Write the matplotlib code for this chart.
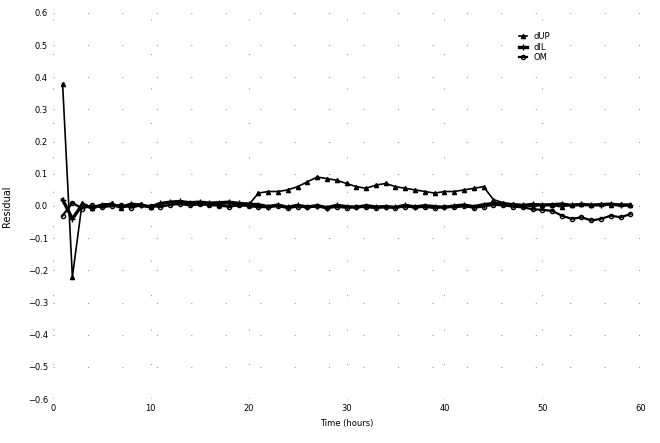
import numpy as np
import matplotlib
matplotlib.use("Agg")
import matplotlib.pyplot as plt

# sample positions (hours)
time = np.arange(1, 60)

dup = [0.38, -0.22, 0.01, -0.005, 0.004, 0.008, -0.006, 0.003, 0.006, -0.004,
       0.005, 0.01, 0.012, 0.008, 0.01, 0.006, 0.004, 0.002, 0.005, 0.003,
       0.04, 0.045, 0.045, 0.05, 0.06, 0.075, 0.09, 0.085, 0.08, 0.07,
       0.06, 0.055, 0.065, 0.07, 0.06, 0.055, 0.05, 0.045, 0.04, 0.045,
       0.045, 0.05, 0.055, 0.06, 0.02, 0.01, 0.006, 0.003, -0.002, 0.004,
       0.002, -0.003, 0.004, 0.006, 0.002, 0.005, 0.003, 0.006, 0.004]

dil = [0.02, -0.04, 0.004, -0.006, 0.003, 0.005, -0.004, 0.006, 0.002, -0.003,
       0.008, 0.012, 0.014, 0.01, 0.012, 0.009, 0.01, 0.012, 0.008, 0.006,
       0.004, -0.002, 0.003, -0.004, 0.002, -0.003, 0.001, -0.005, 0.002, -0.002,
       -0.004, 0.001, -0.003, -0.002, -0.004, 0.002, -0.003, 0.001, -0.002, -0.004,
       0.0, 0.003, -0.002, 0.004, 0.008, 0.006, 0.004, 0.002, 0.005, 0.003,
       0.004, 0.006, 0.002, 0.005, 0.003, 0.004, 0.006, 0.002, 0.003]

om = [-0.03, 0.01, -0.008, 0.002, -0.004, 0.0, 0.003, -0.005, 0.002, 0.0,
      -0.003, 0.004, 0.006, 0.002, 0.005, 0.003, 0.001, -0.002, 0.002, 0.0,
      -0.004, -0.003, 0.0, -0.006, -0.002, -0.004, -0.001, -0.006, -0.003, -0.005,
      -0.002, -0.004, -0.006, -0.003, -0.005, -0.002, -0.004, -0.003, -0.006, -0.002,
      -0.004, -0.001, -0.005, -0.002, 0.004, 0.002, -0.002, -0.004, -0.01, -0.012,
      -0.015, -0.03, -0.04, -0.035, -0.045, -0.04, -0.03, -0.035, -0.025]

yticks = [-0.6, -0.5, -0.4, -0.3, -0.2, -0.1, 0.0, 0.1, 0.2, 0.3, 0.4, 0.5, 0.6]
xticks = [0, 10, 20, 30, 40, 50, 60]

fig = plt.figure(figsize=(6.6, 4.43), dpi=100)
ax = fig.add_axes([0.080, 0.099, 0.89, 0.872])

ax.plot(time, dup, color='black', lw=1.2, marker='^', ms=3, label='dUP')
ax.plot(time, dil, color='black', lw=2.4, marker='+', ms=4, label='dIL')
ax.plot(time, om, color='black', lw=1.6, marker='o', ms=3, mfc='none', label='OM')

ax.set_xlim(0, 60)
ax.set_ylim(-0.6, 0.6)
ax.set_xticks(xticks)
ax.set_yticks(yticks)
ax.tick_params(labelsize=6, length=0)
ax.set_xlabel('Time (hours)', fontsize=6)
ax.set_ylabel('Residual', fontsize=7)
ax.yaxis.set_label_coords(-0.07, 0.5)
for s in ax.spines.values():
    s.set_visible(False)
ax.grid(True, linestyle=(0, (1, 30)), color='0.6', lw=0.8)

ax.legend(loc='upper right', bbox_to_anchor=(0.86, 0.97), frameon=False,
          fontsize=6, handlelength=1.0, labelspacing=0.2)

fig.savefig('out.png', dpi=100)
